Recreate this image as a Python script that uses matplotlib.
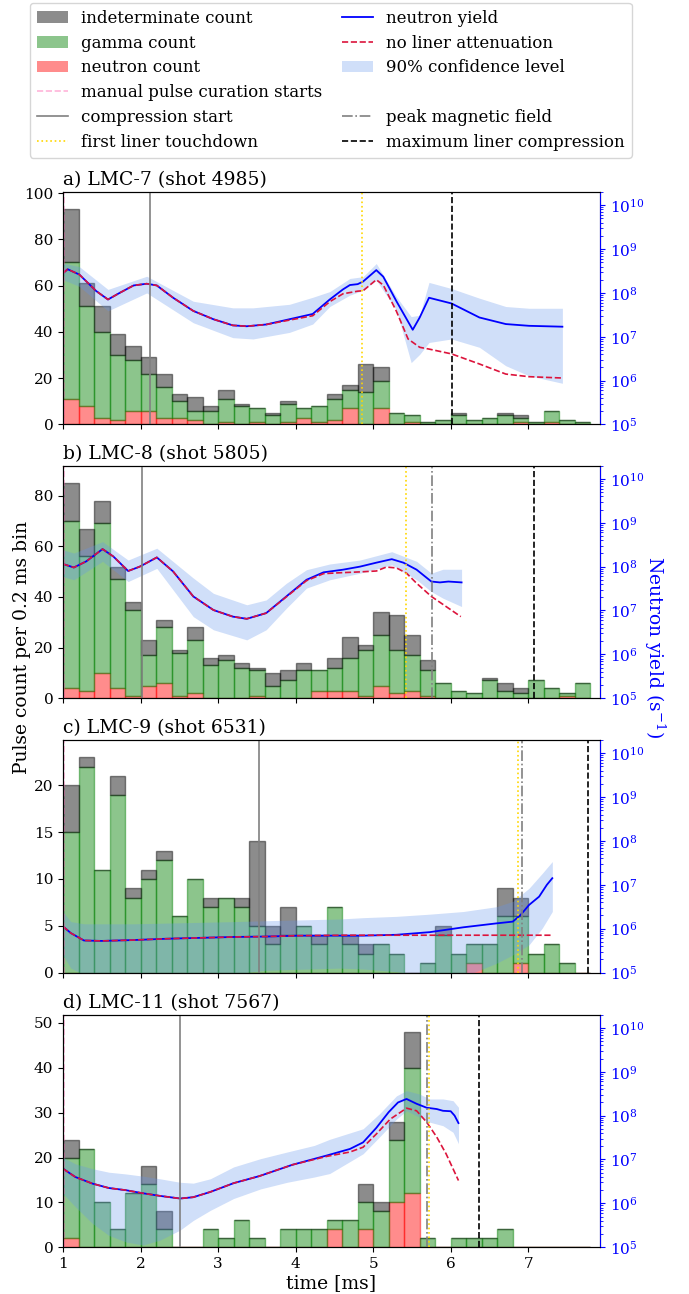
import numpy as np
import matplotlib
matplotlib.use("Agg")
import matplotlib.pyplot as plt
from matplotlib.patches import Patch
from matplotlib.lines import Line2D

plt.rcParams['font.family'] = 'serif'
plt.rcParams['font.serif'] = ['DejaVu Serif']
plt.rcParams['mathtext.fontset'] = 'dejavuserif'
plt.rcParams['font.size'] = 11

# ---- pulse counts per 0.2 ms bin (bins start at 1.0 ms) ----
neutron_a = [11, 8, 3, 2, 6, 6, 3, 3, 2, 0, 1, 0, 1, 0, 1, 3, 1, 2, 7, 0, 7, 0, 1, 0, 0, 0, 0, 0, 0, 1, 0, 1, 0, 0]
gamma_a = [59, 43, 37, 28, 22, 16, 13, 7, 4, 6, 10, 8, 6, 4, 8, 4, 7, 9, 8, 14, 12, 5, 3, 1, 2, 4, 2, 3, 4, 2, 1, 5, 2, 1]
indet_a = [23, 10, 11, 9, 6, 7, 6, 3, 6, 2, 4, 1, 0, 1, 1, 0, 0, 2, 2, 12, 6, 0, 0, 0, 0, 1, 0, 0, 1, 1, 0, 0, 0, 0]

neutron_b = [4, 3, 10, 4, 1, 5, 6, 1, 2, 0, 0, 0, 1, 0, 0, 0, 3, 3, 3, 1, 5, 2, 3, 1, 0, 0, 0, 0, 0, 0, 0, 0, 1, 0]
gamma_b = [66, 53, 59, 43, 34, 12, 22, 17, 21, 13, 15, 12, 10, 5, 7, 11, 8, 9, 13, 18, 20, 17, 14, 10, 6, 3, 2, 7, 3, 2, 7, 4, 1, 6]
indet_b = [15, 11, 9, 5, 3, 6, 3, 1, 5, 3, 2, 2, 1, 5, 4, 3, 0, 4, 8, 2, 9, 14, 8, 4, 0, 0, 0, 1, 3, 2, 0, 0, 0, 0]

neutron_c = [0, 0, 0, 0, 0, 0, 0, 0, 0, 0, 0, 0, 0, 0, 0, 0, 0, 0, 0, 0, 0, 0, 0, 0, 0, 0, 1, 0, 0, 1, 0, 0, 0, 0]
gamma_c = [15, 22, 11, 19, 8, 10, 12, 6, 10, 7, 8, 7, 5, 3, 4, 5, 3, 7, 3, 2, 3, 2, 0, 1, 4, 2, 2, 3, 6, 5, 2, 3, 1, 0]
indet_c = [5, 1, 0, 2, 1, 1, 1, 0, 0, 1, 0, 1, 9, 2, 3, 0, 1, 0, 1, 1, 0, 0, 0, 0, 1, 0, 0, 0, 3, 2, 0, 0, 0, 0]

neutron_d = [2, 0, 0, 0, 0, 0, 0, 0, 0, 0, 0, 0, 0, 0, 0, 0, 0, 4, 0, 4, 0, 10, 12, 0, 0, 0, 0, 0, 0, 0, 0, 0, 0, 0]
gamma_d = [18, 22, 10, 4, 12, 14, 4, 0, 0, 4, 2, 6, 2, 0, 4, 4, 4, 2, 6, 6, 8, 14, 28, 2, 0, 2, 2, 2, 4, 0, 0, 0, 0, 0]
indet_d = [4, 0, 0, 0, 0, 4, 4, 0, 0, 0, 0, 0, 0, 0, 0, 0, 0, 0, 0, 4, 2, 4, 8, 0, 0, 0, 0, 0, 0, 0, 0, 0, 0, 0]

# ---- neutron yield curves, log10(s^-1) ----
t_yield_a = [1.00, 1.06, 1.21, 1.43, 1.58, 1.73, 1.91, 2.08, 2.21, 2.42, 2.68, 2.94, 3.19, 3.37, 3.62, 3.92,
             4.22, 4.44, 4.61, 4.70, 4.80, 4.87, 5.04, 5.13, 5.30, 5.51, 5.60, 5.72, 6.01, 6.37, 6.71, 7.01, 7.44]
yield_a = [8.45, 8.54, 8.42, 8.04, 7.85, 8.00, 8.17, 8.21, 8.17, 7.89, 7.59, 7.40, 7.26, 7.24, 7.28, 7.40,
           7.52, 7.85, 8.08, 8.18, 8.20, 8.26, 8.52, 8.37, 7.81, 7.16, 7.44, 7.89, 7.76, 7.44, 7.29, 7.25, 7.23]
t_noliner_a = [1.00, 1.06, 1.21, 1.43, 1.58, 1.73, 1.91, 2.08, 2.21, 2.42, 2.68, 2.94, 3.19, 3.37, 3.62, 3.92,
               4.22, 4.44, 4.61, 4.80, 4.87, 5.04, 5.13, 5.30, 5.45, 5.60, 5.72, 6.01, 6.37, 6.71, 7.01, 7.44]
noliner_a = [8.45, 8.54, 8.42, 8.04, 7.85, 8.00, 8.17, 8.21, 8.17, 7.89, 7.59, 7.40, 7.26, 7.24, 7.28, 7.38,
             7.48, 7.80, 7.98, 8.04, 8.05, 8.30, 8.18, 7.58, 6.95, 6.76, 6.72, 6.61, 6.38, 6.15, 6.09, 6.06]
t_band_a = [1.00, 1.21, 1.58, 2.08, 2.68, 3.19, 3.45, 3.92, 4.22, 4.44, 4.70, 4.87, 5.04, 5.30, 5.49, 5.60,
            5.72, 6.01, 6.37, 6.71, 7.01, 7.44]
band_lo_a = [8.30, 8.15, 7.59, 8.00, 7.32, 6.98, 6.95, 7.10, 7.29, 7.69, 7.95, 8.06, 8.29, 7.61, 6.41, 6.60,
             6.87, 6.95, 6.76, 6.34, 6.11, 5.94]
band_hi_a = [8.68, 8.60, 8.08, 8.38, 7.81, 7.66, 7.66, 7.74, 7.90, 8.03, 8.33, 8.37, 8.67, 7.91, 7.46, 7.49,
             8.24, 8.10, 7.88, 7.69, 7.65, 7.65]

t_yield_b = [1.00, 1.14, 1.30, 1.51, 1.65, 1.84, 1.99, 2.21, 2.42, 2.68, 2.94, 3.19, 3.37, 3.62, 3.88, 4.14,
             4.36, 4.61, 4.83, 5.04, 5.24, 5.39, 5.56, 5.75, 5.86, 5.97, 6.14]
yield_b = [8.06, 7.98, 8.12, 8.40, 8.23, 7.90, 8.00, 8.21, 7.89, 7.32, 7.01, 6.86, 6.81, 6.94, 7.32, 7.70,
           7.87, 7.93, 8.00, 8.09, 8.17, 8.09, 7.93, 7.66, 7.64, 7.66, 7.64]
t_noliner_b = [1.00, 1.14, 1.30, 1.51, 1.65, 1.84, 1.99, 2.21, 2.42, 2.68, 2.94, 3.19, 3.37, 3.62, 3.88, 4.14,
               4.36, 4.57, 4.83, 5.04, 5.17, 5.30, 5.43, 5.56, 5.75, 5.94, 6.13]
noliner_b = [8.06, 7.98, 8.12, 8.40, 8.23, 7.90, 8.00, 8.21, 7.89, 7.32, 7.01, 6.86, 6.81, 6.94, 7.31, 7.68,
             7.84, 7.86, 7.88, 7.90, 7.99, 7.97, 7.85, 7.62, 7.32, 7.09, 6.86]
t_band_b = [1.00, 1.14, 1.51, 1.84, 2.21, 2.68, 2.94, 3.37, 3.62, 3.88, 4.14, 4.44, 4.83, 5.24, 5.56, 5.75,
            5.90, 6.14]
band_lo_b = [7.77, 7.70, 8.12, 7.66, 7.96, 6.86, 6.56, 6.33, 6.56, 7.05, 7.51, 7.70, 7.85, 8.04, 7.70, 7.43,
             7.28, 7.09]
band_hi_b = [8.38, 8.31, 8.57, 8.15, 8.42, 7.74, 7.39, 7.13, 7.24, 7.62, 7.93, 8.06, 8.15, 8.34, 8.12, 7.85,
             7.94, 7.94]

t_yield_c = [1.00, 1.10, 1.27, 1.50, 1.91, 2.34, 2.77, 3.20, 3.62, 4.05, 4.87, 5.30, 5.73, 6.16, 6.59, 6.80,
             6.90, 7.01, 7.14, 7.24, 7.31]
yield_c = [6.05, 5.90, 5.73, 5.72, 5.74, 5.77, 5.79, 5.81, 5.82, 5.84, 5.84, 5.86, 5.92, 6.03, 6.12, 6.16,
           6.31, 6.54, 6.73, 7.00, 7.15]
t_noliner_c = [1.00, 1.10, 1.27, 1.50, 1.91, 2.34, 2.77, 3.20, 3.62, 4.05, 4.60, 7.31]
noliner_c = [6.05, 5.90, 5.73, 5.72, 5.74, 5.77, 5.79, 5.81, 5.82, 5.84, 5.85, 5.85]
t_band_c = [1.00, 1.10, 1.27, 1.91, 3.20, 3.60, 4.57, 4.87, 5.30, 5.73, 6.16, 6.59, 6.80, 7.01, 7.18, 7.31]
band_lo_c = [5.40, 5.10, 4.95, 4.95, 4.97, 5.05, 5.10, 5.08, 5.02, 4.90, 4.90, 5.21, 5.40, 5.63, 6.01, 6.39]
band_hi_c = [6.39, 6.16, 6.11, 6.11, 6.16, 6.18, 6.22, 6.25, 6.28, 6.33, 6.39, 6.50, 6.62, 6.92, 7.26, 7.53]

t_yield_d = [1.00, 1.16, 1.38, 1.59, 1.81, 2.03, 2.25, 2.51, 2.68, 2.90, 3.20, 3.53, 3.96, 4.40, 4.70, 4.87,
             5.04, 5.20, 5.32, 5.43, 5.56, 5.69, 5.82, 5.90, 6.00, 6.05, 6.10]
yield_d = [6.79, 6.60, 6.45, 6.35, 6.30, 6.23, 6.17, 6.11, 6.14, 6.26, 6.46, 6.62, 6.88, 7.09, 7.24, 7.39,
           7.72, 8.08, 8.30, 8.38, 8.27, 8.18, 8.15, 8.11, 8.10, 8.00, 7.83]
t_noliner_d = [1.00, 1.16, 1.38, 1.59, 1.81, 2.03, 2.25, 2.51, 2.68, 2.90, 3.20, 3.53, 3.96, 4.40, 4.70, 4.87,
               5.04, 5.22, 5.43, 5.56, 5.69, 5.82, 5.94, 6.10]
noliner_d = [6.79, 6.60, 6.45, 6.35, 6.30, 6.23, 6.17, 6.11, 6.14, 6.26, 6.46, 6.62, 6.88, 7.07, 7.17, 7.28,
             7.58, 7.92, 8.17, 8.11, 7.85, 7.51, 7.13, 6.52]
t_band_d = [1.00, 1.16, 1.38, 1.59, 1.81, 2.03, 2.25, 2.51, 2.68, 2.90, 3.20, 3.55, 3.89, 4.24, 4.44, 4.87,
            5.08, 5.30, 5.43, 5.60, 5.73, 5.90, 6.03, 6.10]
band_lo_d = [6.22, 5.92, 5.54, 5.27, 5.12, 5.05, 5.16, 5.39, 5.61, 5.84, 6.11, 6.33, 6.48, 6.60, 6.68, 7.13,
             7.51, 7.92, 8.11, 7.96, 7.85, 7.77, 7.62, 7.36]
band_hi_d = [7.05, 6.90, 6.79, 6.71, 6.67, 6.62, 6.56, 6.48, 6.46, 6.56, 6.83, 7.02, 7.17, 7.32, 7.46, 7.70,
             8.04, 8.45, 8.57, 8.49, 8.38, 8.38, 8.34, 8.19]

# ---- event times [ms] (None = not marked) ----
titles = ["a) LMC-7 (shot 4985)", "b) LMC-8 (shot 5805)", "c) LMC-9 (shot 6531)", "d) LMC-11 (shot 7567)"]
t_curation = [1.01, 1.01, 1.01, 1.01]
t_compression = [2.12, 2.02, 3.53, 2.51]
t_touchdown = [4.86, 5.42, 6.87, 5.72]
t_peak_field = [None, 5.76, 6.92, 5.69]
t_max_compression = [6.01, 7.07, 7.77, 6.37]

panels = [
    (neutron_a, gamma_a, indet_a, t_yield_a, yield_a, t_noliner_a, noliner_a, t_band_a, band_lo_a, band_hi_a),
    (neutron_b, gamma_b, indet_b, t_yield_b, yield_b, t_noliner_b, noliner_b, t_band_b, band_lo_b, band_hi_b),
    (neutron_c, gamma_c, indet_c, t_yield_c, yield_c, t_noliner_c, noliner_c, t_band_c, band_lo_c, band_hi_c),
    (neutron_d, gamma_d, indet_d, t_yield_d, yield_d, t_noliner_d, noliner_d, t_band_d, band_lo_d, band_hi_d),
]
left_ticks = [np.arange(0, 101, 20), np.arange(0, 81, 20), np.arange(0, 21, 5), np.arange(0, 51, 10)]

W, H = 689, 1294
fig = plt.figure(figsize=(W / 100, H / 100), dpi=100)
ax_tops = [192, 465.7, 740, 1014.7]
ax_h = 232.5
bin_w = 0.2

first = None
for k, (neu, gam, ind, ty, yv, tn, yn, tb, blo, bhi) in enumerate(panels):
    rect = [63 / W, 1 - (ax_tops[k] + ax_h) / H, 537 / W, ax_h / H]
    ax = fig.add_axes(rect, sharex=first)
    if first is None:
        first = ax
    neu = np.array(neu); gam = np.array(gam); ind = np.array(ind)
    edges = 1.0 + bin_w * np.arange(len(neu))
    ax.bar(edges, neu, width=bin_w, align='edge', color='red', edgecolor='red', alpha=0.45, lw=1)
    ax.bar(edges, gam, bottom=neu, width=bin_w, align='edge', color='green', edgecolor='green', alpha=0.45, lw=1)
    ax.bar(edges, ind, bottom=neu + gam, width=bin_w, align='edge', color='black', edgecolor='black', alpha=0.45, lw=1)
    total = neu + gam + ind
    ax.set_ylim(0, 1.08 * total.max())
    ax.set_yticks(left_ticks[k])
    ax.set_title(titles[k], loc='left', fontsize=13.5, pad=5)

    ax2 = ax.twinx()
    ax2.set_yscale('log')
    ax2.fill_between(tb, 10 ** np.array(blo), 10 ** np.array(bhi), color='cornflowerblue', alpha=0.3, lw=0)
    ax2.plot(ty, 10 ** np.array(yv), color='blue', lw=1.3)
    ax2.plot(tn, 10 ** np.array(yn), '--', color='crimson', lw=1.2)
    ax2.axvline(t_curation[k], color='hotpink', alpha=0.5, ls='--', lw=1.2)
    ax2.axvline(t_compression[k], color='gray', ls='-', lw=1.2)
    ax2.axvline(t_touchdown[k], color='gold', ls=':', lw=1.2)
    if t_peak_field[k] is not None:
        ax2.axvline(t_peak_field[k], color='gray', ls='-.', lw=1.2)
    ax2.axvline(t_max_compression[k], color='black', ls='--', lw=1.2)
    ax2.set_ylim(1e5, 2e10)
    ax2.tick_params(axis='y', which='both', colors='blue')
    ax2.spines['right'].set_color('blue')

    ax.set_xlim(1, 7.925)
    if k < 3:
        plt.setp(ax.get_xticklabels(), visible=False)
    else:
        ax.set_xlabel('time [ms]', fontsize=13.5, labelpad=2)

fig.text(22 / W, 0.5, 'Pulse count per 0.2 ms bin', rotation=90, ha='center', va='center', fontsize=13.5)
fig.text(655 / W, 0.5, 'Neutron yield (s$^{-1}$)', rotation=270, ha='center', va='center',
         fontsize=13.5, color='blue')

handles = [
    Patch(facecolor='black', alpha=0.45),
    Patch(facecolor='green', alpha=0.45),
    Patch(facecolor='red', alpha=0.45),
    Line2D([], [], color='hotpink', alpha=0.5, ls='--', lw=1.2),
    Line2D([], [], color='gray', ls='-', lw=1.2),
    Line2D([], [], color='gold', ls=':', lw=1.2),
    Line2D([], [], color='blue', lw=1.3),
    Line2D([], [], color='crimson', ls='--', lw=1.2),
    Patch(facecolor='cornflowerblue', alpha=0.3),
    Line2D([], [], ls='none'),
    Line2D([], [], color='gray', ls='-.', lw=1.2),
    Line2D([], [], color='black', ls='--', lw=1.2),
]
labels = ['indeterminate count', 'gamma count', 'neutron count', 'manual pulse curation starts',
          'compression start', 'first liner touchdown', 'neutron yield', 'no liner attenuation',
          '90% confidence level', '', 'peak magnetic field', 'maximum liner compression']
fig.legend(handles, labels, loc='upper left', bbox_to_anchor=(30 / W, 1 - 3 / H), ncol=2,
           borderaxespad=0, fontsize=12, handlelength=1.85, columnspacing=1.2, labelspacing=0.47)

fig.savefig('out.png', dpi=100)
